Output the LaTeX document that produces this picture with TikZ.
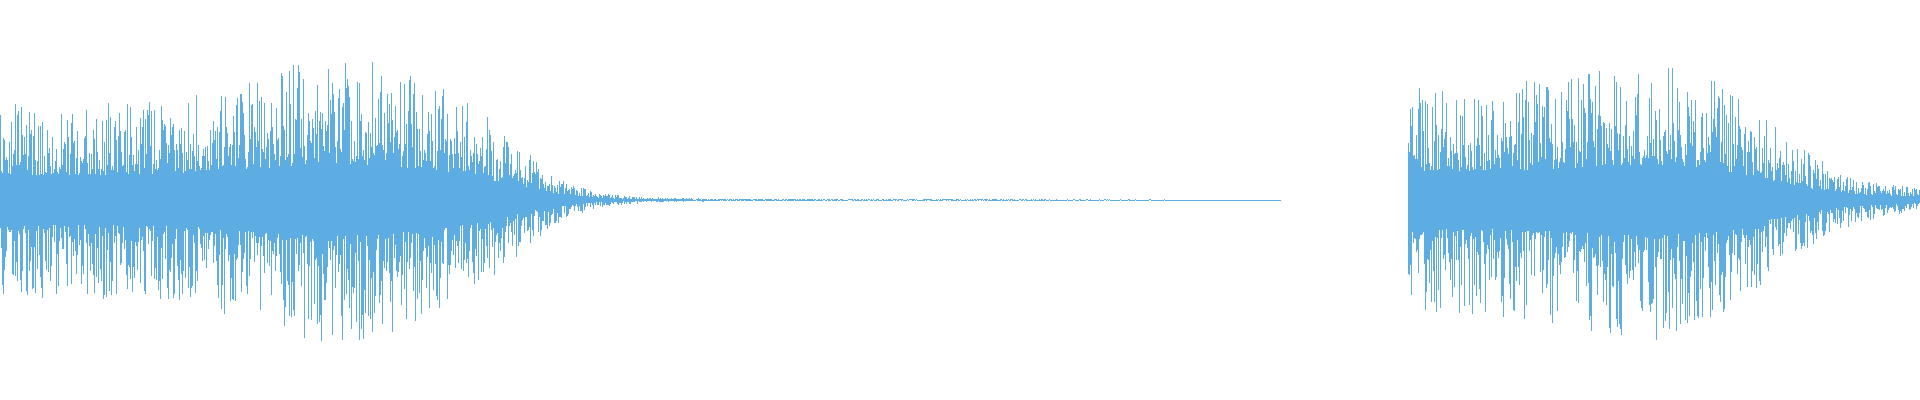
\documentclass[tikz,border=0pt]{standalone}
\definecolor{wave}{RGB}{93,172,226}
\begin{document}
\begin{tikzpicture}[x=0.01cm,y=0.01cm]
  \tikzset{sample/.style={draw=wave,line width=0.25pt}}
  \useasboundingbox (0,-200) rectangle (1920,200);
  \pgfmathsetseed{7}
  % first burst, fading out
  \foreach \x in {0,...,1280}{
    \pgfmathsetmacro{\env}{95/(1+exp(min(9,(\x-520)/30)))+45*exp(max(-9,-((\x-340)/120)^2))+3*(1-\x/1400)}
    \pgfmathsetmacro{\up}{\env*(0.25+0.75*rnd^1.5)}
    \pgfmathsetmacro{\dn}{\env*(0.25+0.75*rnd^1.5)}
    \draw[sample] (\x,-\dn) -- (\x,\up);
  }
  % second burst
  \foreach \x in {1408,...,1920}{
    \pgfmathsetmacro{\env}{105/(1+exp(min(9,(\x-1780)/40)))+30*exp(max(-9,-((\x-1660)/100)^2))+10}
    \pgfmathsetmacro{\up}{\env*(0.25+0.75*rnd^1.5)}
    \pgfmathsetmacro{\dn}{\env*(0.25+0.75*rnd^1.5)}
    \draw[sample] (\x,-\dn) -- (\x,\up);
  }
\end{tikzpicture}
\end{document}
